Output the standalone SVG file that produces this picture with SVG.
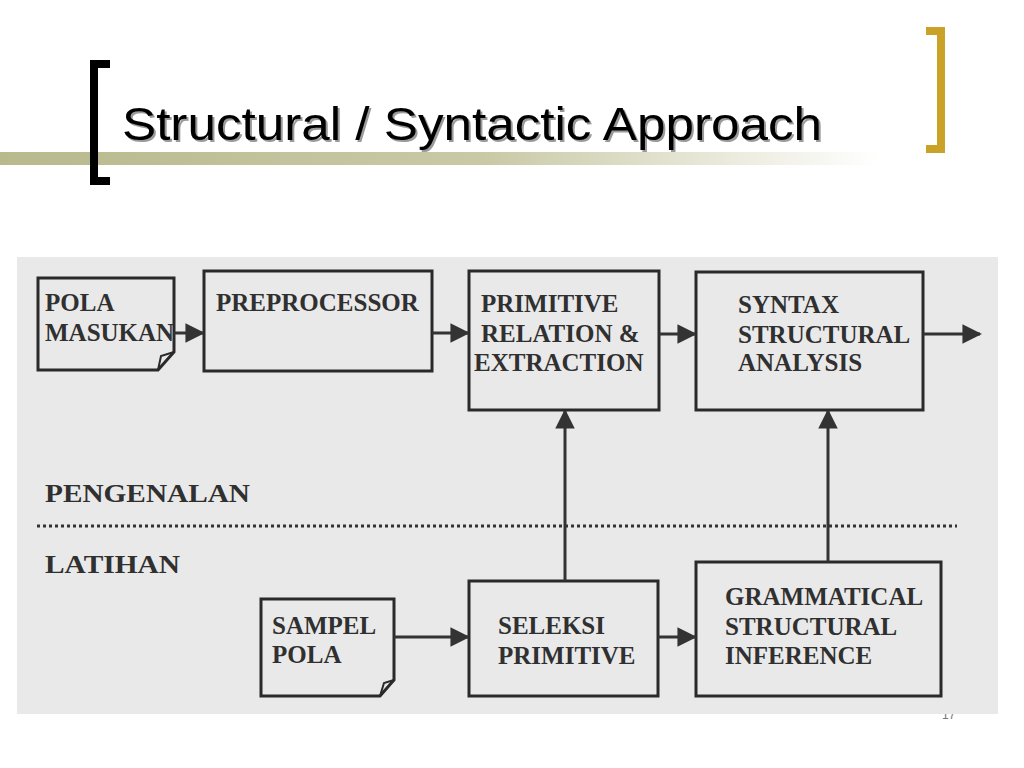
<svg xmlns="http://www.w3.org/2000/svg" width="1024" height="768" viewBox="0 0 1024 768">
<defs>
<linearGradient id="bar" x1="0" y1="0" x2="1" y2="0">
<stop offset="0" stop-color="#b9b98e"/>
<stop offset="0.55" stop-color="#c9c9a6"/>
<stop offset="1" stop-color="#ffffff"/>
</linearGradient>
<marker id="ah" viewBox="0 0 10 10" refX="9" refY="5" markerWidth="6.5" markerHeight="6.5" markerUnits="strokeWidth" orient="auto">
<path d="M0,0 L10,5 L0,10 z" fill="#333"/>
</marker>
<style>
.lbl{font-family:"Liberation Serif","Times New Roman",serif;font-weight:bold;font-size:25px;fill:#303030}
.sec{font-size:26px}
.box{fill:none;stroke:#2a2a2a;stroke-width:3}
.con{fill:none;stroke:#333;stroke-width:3;marker-end:url(#ah)}
.title{font-family:"Liberation Sans",Arial,sans-serif;font-size:46px}
</style>
</defs>
<rect width="1024" height="768" fill="#ffffff"/>
<text x="942" y="719" font-family="Liberation Sans,Arial,sans-serif" font-size="12" fill="#777">17</text>
<!-- header -->
<rect x="0" y="152" width="880" height="13" fill="url(#bar)"/>
<path d="M110,64 H94 V181 H110" fill="none" stroke="#000" stroke-width="8"/>
<path d="M926,31 H941 V149 H926" fill="none" stroke="#c9a227" stroke-width="8"/>
<text class="title" x="124" y="142" fill="#9a9a9a" textLength="700" lengthAdjust="spacingAndGlyphs">Structural / Syntactic Approach</text>
<text class="title" x="122" y="140" fill="#000" textLength="700" lengthAdjust="spacingAndGlyphs">Structural / Syntactic Approach</text>
<!-- scanned area -->
<rect x="17" y="257" width="981" height="457" fill="#e9e9e9"/>
<text class="lbl sec" x="45" y="502" textLength="205" lengthAdjust="spacingAndGlyphs">PENGENALAN</text>
<line x1="37" y1="526" x2="957" y2="526" stroke="#333" stroke-width="3" stroke-dasharray="3,3"/>
<text class="lbl sec" x="45" y="573" textLength="135" lengthAdjust="spacingAndGlyphs">LATIHAN</text>
<g id="pola-masukan">
<path class="box" d="M38,278 H174 V352 L158,370 H38 Z"/>
<path d="M158,370 L161,356 L174,352" fill="none" stroke="#2a2a2a" stroke-width="2"/>
<text class="lbl" x="45" y="311">POLA</text>
<text class="lbl" x="45" y="341">MASUKAN</text>
</g>
<g id="preprocessor">
<rect class="box" x="204" y="271" width="228" height="100"/>
<text class="lbl" x="216" y="311">PREPROCESSOR</text>
</g>
<g id="primitive">
<rect class="box" x="469" y="271" width="190" height="139"/>
<text class="lbl" x="481" y="312">PRIMITIVE</text>
<text class="lbl" x="481" y="342">RELATION &amp;</text>
<text class="lbl" x="474" y="371">EXTRACTION</text>
</g>
<g id="syntax">
<rect class="box" x="696" y="272" width="227" height="138"/>
<text class="lbl" x="738" y="313">SYNTAX</text>
<text class="lbl" x="738" y="343">STRUCTURAL</text>
<text class="lbl" x="738" y="371">ANALYSIS</text>
</g>
<g id="sampel-pola">
<path class="box" d="M261,599 H394 V680 L380,696 H261 Z"/>
<path d="M380,696 L384,683 L394,680" fill="none" stroke="#2a2a2a" stroke-width="2"/>
<text class="lbl" x="272" y="634">SAMPEL</text>
<text class="lbl" x="272" y="663">POLA</text>
</g>
<g id="seleksi">
<rect class="box" x="469" y="581" width="189" height="115"/>
<text class="lbl" x="498" y="634">SELEKSI</text>
<text class="lbl" x="498" y="664">PRIMITIVE</text>
</g>
<g id="grammatical">
<rect class="box" x="696" y="562" width="245" height="134"/>
<text class="lbl" x="725" y="605">GRAMMATICAL</text>
<text class="lbl" x="725" y="635">STRUCTURAL</text>
<text class="lbl" x="725" y="664">INFERENCE</text>
</g>
<rect x="900" y="700" width="98" height="14" fill="#e9e9e9"/>
<g id="connectors">
<line class="con" x1="174" y1="333" x2="203" y2="333"/>
<line class="con" x1="432" y1="333" x2="468" y2="333"/>
<line class="con" x1="659" y1="334" x2="695" y2="334"/>
<line class="con" x1="923" y1="334" x2="980" y2="334"/>
<line class="con" x1="394" y1="637" x2="468" y2="637"/>
<line class="con" x1="658" y1="637" x2="695" y2="637"/>
<line class="con" x1="565" y1="581" x2="565" y2="411"/>
<line class="con" x1="828" y1="562" x2="828" y2="411"/>
</g>
</svg>
